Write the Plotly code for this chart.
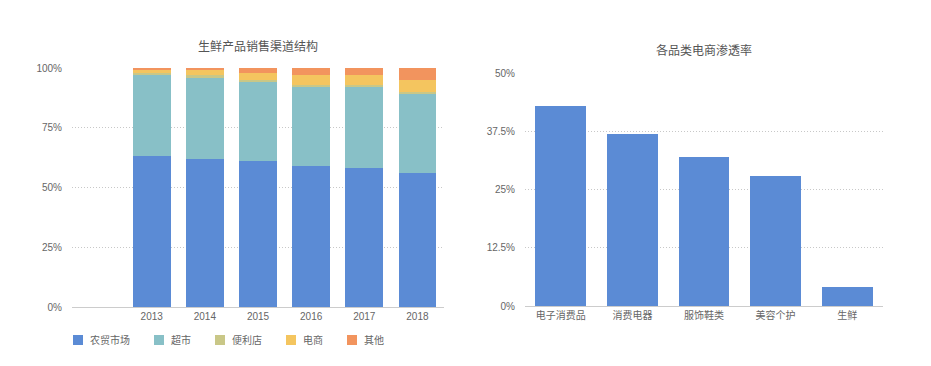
import plotly.graph_objects as go

# ---- data ----
years = ["2013", "2014", "2015", "2016", "2017", "2018"]
channel_names = ["农贸市场", "超市", "便利店", "电商", "其他"]
farmers_market = [63, 62, 61, 59, 58, 56]
supermarket = [34, 34, 33, 33, 34, 33]
convenience = [1, 1, 1, 1, 1, 1]
ecommerce = [1, 2, 3, 4, 4, 5]
others = [1, 1, 2, 3, 3, 5]

categories = ["电子消费品", "消费电器", "服饰鞋类", "美容个护", "生鲜"]
penetration = [43, 37, 32, 28, 4]

left_ticks = [0, 25, 50, 75, 100]
right_ticks = [0, 12.5, 25, 37.5, 50]

title_left = "生鲜产品销售渠道结构"
title_right = "各品类电商渗透率"

colors = ["#5B8BD5", "#88C0C7", "#C9C787", "#F4C55F", "#F2945E"]

FONT = "Liberation Sans, Noto Sans CJK SC, sans-serif"
TXT = "#666666"
OFF = 8  # page body margin
W, H = 931 - OFF, 366 - OFF

fig = go.Figure()
series = [farmers_market, supermarket, convenience, ecommerce, others]
for name, vals, col in zip(channel_names, series, colors):
    fig.add_trace(go.Bar(x=years, y=vals, name=name, marker=dict(color=col, line=dict(width=0)),
                         xaxis="x", yaxis="y", hoverinfo="x+y+name", showlegend=False))

fig.add_trace(go.Bar(x=categories, y=penetration, name="渗透率", showlegend=False,
                     marker=dict(color=colors[0], line=dict(width=0)),
                     xaxis="x2", yaxis="y2"))


def px_x(p):
    return (p - OFF) / W


def px_y(p):
    return (H - (p - OFF)) / H


grid = dict(showgrid=True, gridcolor="#c8c8c8", griddash="1px,2px", gridwidth=1, zeroline=False,
            tickfont=dict(size=10, color=TXT, family=FONT), ticks="", automargin=False,
            ticklabelstandoff=9)
xcommon = dict(type="category", showline=True, linecolor="#cccccc", linewidth=1, showgrid=False,
               tickfont=dict(size=10, color=TXT, family=FONT), ticks="", automargin=False)

# ---- manual legend (squares + labels) ----
shapes = []
annotations = []
lx = 73
ly = 340
for name, col in zip(channel_names, colors):
    shapes.append(dict(type="rect", xref="paper", yref="paper",
                       x0=px_x(lx), x1=px_x(lx + 10), y0=px_y(ly + 5), y1=px_y(ly - 5),
                       fillcolor=col, line=dict(width=0)))
    annotations.append(dict(text=name, x=px_x(lx + 15), y=px_y(ly), xref="paper", yref="paper",
                            showarrow=False, xanchor="left", yanchor="middle",
                            font=dict(size=10, color=TXT, family=FONT)))
    lx += 16 + 10 * len(name) + 25

annotations += [
    dict(text=title_left, x=(px_x(72) + px_x(444)) / 2, y=px_y(47), xref="paper", yref="paper",
         showarrow=False, font=dict(size=12, color="#555555", family=FONT), xanchor="center", yanchor="middle"),
    dict(text=title_right, x=(px_x(525) + px_x(883)) / 2, y=px_y(51), xref="paper", yref="paper",
         showarrow=False, font=dict(size=12, color="#555555", family=FONT), xanchor="center", yanchor="middle"),
]

fig.update_layout(
    width=W, height=H,
    margin=dict(l=0, r=0, t=0, b=0, autoexpand=False),
    paper_bgcolor="white", plot_bgcolor="white",
    barmode="stack", bargap=0.29,
    font=dict(family=FONT, color=TXT, size=10),
    xaxis=dict(domain=[px_x(72), px_x(444)], range=[-1.5, 5.5], anchor="y", **xcommon),
    yaxis=dict(domain=[px_y(307), px_y(68)], range=[0, 100], tickvals=left_ticks,
               ticktext=[f"{v:g}%" for v in left_ticks], anchor="x", **grid),
    xaxis2=dict(domain=[px_x(525), px_x(883)], anchor="y2", **xcommon),
    yaxis2=dict(domain=[px_y(306), px_y(73.5)], range=[0, 50], tickvals=right_ticks,
                ticktext=[f"{v:g}%" for v in right_ticks], anchor="x2", **grid),
    showlegend=False,
    shapes=shapes,
    annotations=annotations,
)

fig.write_html("out.html")
